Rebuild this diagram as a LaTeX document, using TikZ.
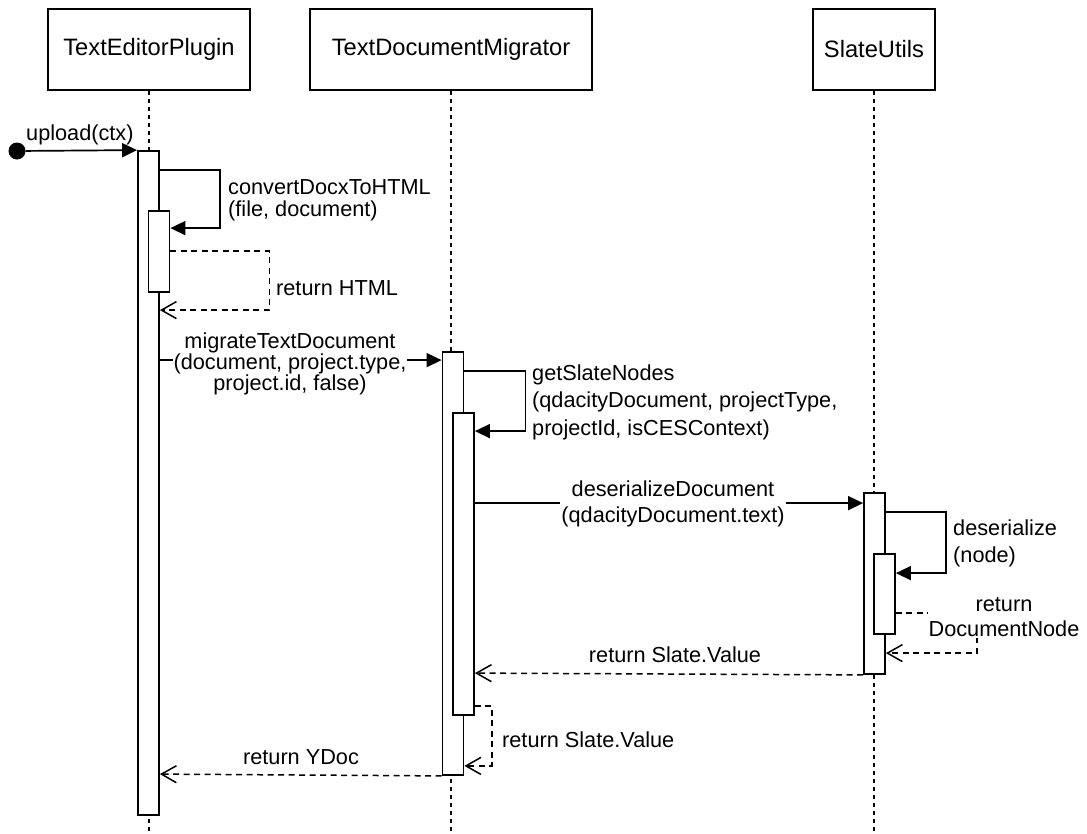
\documentclass[tikz,border=0pt]{standalone}
\usepackage{fontspec}
\setmainfont{Liberation Sans}
\usetikzlibrary{arrows.meta,calc}
\newcommand\msgsize[1]{\fontsize{21.7}{#1}\selectfont}

\begin{document}
\begin{tikzpicture}[x=1pt,y=-1pt,
  actor/.style={draw, line width=1.8pt, rectangle, minimum height=81pt, inner sep=0pt,
    font=\fontsize{23.7}{28}\selectfont},
  lifeline/.style={line width=1.4pt, dash pattern=on 4.5pt off 3.5pt},
  bar/.style={draw, fill=white, line width=1.8pt, rectangle, minimum width=21pt, inner sep=0pt},
  call/.style={line width=1.7pt, -{Triangle[length=15pt,width=14pt]}},
  ret/.style={line width=1.5pt, dash pattern=on 6pt off 4.5pt,
    -{Straight Barb[length=15pt,width=17pt,line width=1.5pt]}},
  lbl/.style={inner sep=1pt, font=\msgsize{26}},
  dot/.style={circle, fill=black, minimum size=17pt, inner sep=0pt}
]
\useasboundingbox (0,0) rectangle (1087,833);

% participants
\node[actor, minimum width=202pt] (tep) at (149,49.5) {TextEditorPlugin};
\node[actor, minimum width=282pt] (tdm) at (451,49.5) {TextDocumentMigrator};
\node[actor, minimum width=122pt] (su) at (874,49.5) {SlateUtils};

% lifelines
\coordinate (tepEnd) at (149,833);
\coordinate (tdmEnd) at (451,833);
\coordinate (suEnd) at (874,833);
\draw[lifeline] (tep.south) -- (tepEnd);
\draw[lifeline] (tdm.south) -- (tdmEnd);
\draw[lifeline] (su.south) -- (suEnd);

% activation bars
\node[bar, minimum height=664pt] (tepA) at (148.5,483) {};
\node[bar, minimum height=81pt] (tepB) at (159,251.5) {};
\node[bar, minimum height=423pt] (tdmA) at (453,563.5) {};
\node[bar, minimum height=302pt] (tdmB) at (463.5,564) {};
\node[bar, minimum height=181pt] (suA) at (874.5,583.5) {};
\node[bar, minimum height=80pt] (suB) at (884.5,594) {};

% found message
\node[dot] (start) at (17,151) {};
\draw[call] (start) -- (tepA.north west);
\node[lbl, anchor=base west] (lUpload) at (25,140) {upload(ctx)};

% convertDocxToHTML
\draw[call] ($(tepA.north east)+(0,20)$) -- ++(60,0) |- ($(tepB.north east)+(0,18)$);
\node[lbl, anchor=west, align=left, font=\msgsize{22}] (lConvert) at (227,200)
  {convertDocxToHTML\\(file, document)};
\draw[ret] ($(tepB.north east)+(0,41)$) -- ++(99,0) |- ($(tepA.north east)+(0,160)$);
\node[lbl, anchor=base west] (lRetHtml) at (275,295) {return HTML};

% migrateTextDocument
\draw[call] ($(tepA.north east)+(0,210)$) -- ($(tdmA.north west)+(0,9)$);
\node[lbl, fill=white, align=center, font=\msgsize{21}] (lMigrate) at (290,364)
  {migrateTextDocument\\(document, project.type,\\project.id, false)};

% getSlateNodes
\draw[call] ($(tdmA.north east)+(0,20)$) -- ++(61,0) |- ($(tdmB.north east)+(0,19)$);
\node[lbl, anchor=west, align=left, font=\msgsize{27.5}] (lSlate) at (531,402)
  {getSlateNodes\\(qdacityDocument, projectType,\\projectId, isCESContext)};

% deserializeDocument
\draw[call] ($(tdmB.north east)+(0,91)$) -- ($(suA.north west)+(0,11)$);
\node[lbl, fill=white, align=center, font=\msgsize{26.5}] (lDeserDoc) at (673,504)
  {deserializeDocument\\(qdacityDocument.text)};

% deserialize
\draw[call] ($(suA.north east)+(0,20)$) -- ++(60,0) |- ($(suB.north east)+(0,20)$);
\node[lbl, anchor=west, align=left, font=\msgsize{27}] (lDeser) at (952,543)
  {deserialize\\(node)};
\draw[ret] ($(suB.north east)+(0,60)$) -- ++(81,0) |- ($(suA.north east)+(0,161)$);
\node[lbl, fill=white, align=center, font=\msgsize{25}] (lDocNode) at (1004,617)
  {return\\DocumentNode};

% returns
\draw[ret] (suA.south west) -- ($(tdmB.north east)+(0,261)$);
\node[lbl, anchor=base] (lRetSlate1) at (675,662) {return Slate.Value};
\draw[ret] ($(tdmB.south east)+(0,-10)$) -- ++(17,0) |- ($(tdmA.south east)+(0,-10)$);
\node[lbl, anchor=base west] (lRetSlate2) at (501,747) {return Slate.Value};
\draw[ret] (tdmA.south west) -- ($(tepA.north east)+(0,624)$);
\node[lbl, anchor=base] (lYDoc) at (301,764) {return YDoc};
\end{tikzpicture}
\end{document}
